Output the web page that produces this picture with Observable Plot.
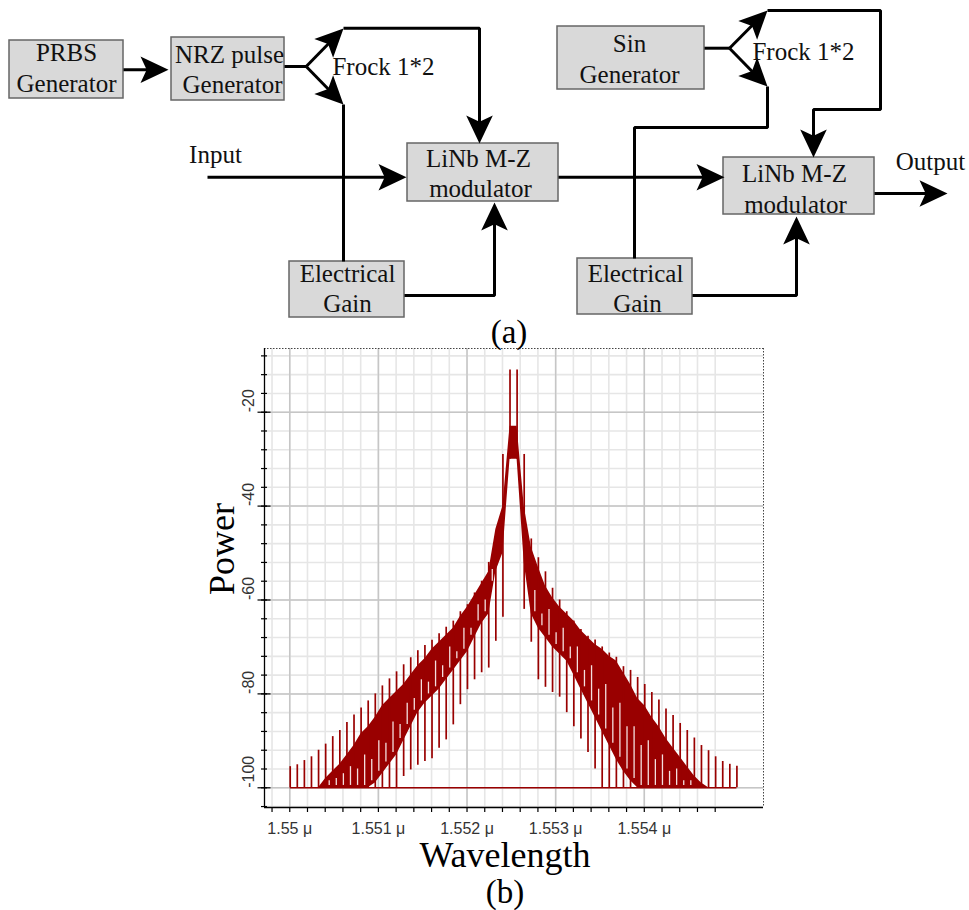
<!DOCTYPE html>
<html><head><meta charset="utf-8">
<script src="https://cdn.jsdelivr.net/npm/d3@7"></script>
<script src="https://cdn.jsdelivr.net/npm/@observablehq/plot@0.6"></script>
<style>
body{margin:0;background:#fff;}
#root{width:969px;}
#root svg{display:block;}
</style></head><body><div id="root"></div>
<script>
// ---------- (b) spectrum data (wavelength in nm, power in dB) ----------
const wavelength = [1550.005,1550.085,1550.165,1550.245,1550.325,1550.405,1550.485,1550.565,1550.645,1550.725,
 1550.805,1550.885,1550.965,1551.045,1551.125,1551.205,1551.285,1551.365,1551.445,1551.525,
 1551.605,1551.685,1551.765,1551.845,1551.925,1552.005,1552.085,1552.165,1552.245,1552.325,
 1552.405,1552.485,1552.565,1552.645,1552.725,1552.805,1552.885,1552.965,1553.045,1553.125,
 1553.205,1553.285,1553.365,1553.445,1553.525,1553.605,1553.685,1553.765,1553.845,1553.925,
 1554.005,1554.085,1554.165,1554.245,1554.325,1554.405,1554.485,1554.565,1554.645,1554.725,
 1554.805,1554.885,1554.965,1555.045];
const spikeTop = [-95.5,-95.1,-94.2,-93.4,-92.0,-90.7,-89.1,-87.8,-86.1,-84.5,-83.0,-81.5,-80.0,-78.3,-76.8,-75.3,
 -73.8,-72.3,-70.8,-69.7,-68.6,-67.2,-65.8,-64.5,-62.5,-61.0,-58.5,-56.0,-52.0,-47.0,-29.0,-11.0,
 -11.0,-29.0,-47.0,-51.0,-54.0,-57.5,-60.0,-62.5,-64.5,-66.3,-67.7,-68.5,-70.0,-71.3,-72.2,-74.2,
 -75.0,-76.5,-78.0,-79.7,-81.3,-83.2,-84.6,-86.3,-87.8,-89.4,-91.0,-92.1,-93.4,-94.4,-95.0,-95.4];
const spikeBottom = [-100,-100,-100,-100,-100,-100,-100,-100,-100,-100,-100,-100,-100,-100,-100,-100,
 -97.6,-96.2,-95.2,-94.4,-93.8,-91.6,-89.8,-86.6,-82.3,-79.1,-77,-75.5,-74.5,-68.8,-63.7,-30,
 -30,-62,-69,-77,-78.6,-79.7,-80.7,-84,-87,-89.6,-92.5,-96,-100,-100,-100,-100,
 -100,-100,-100,-100,-100,-100,-100,-100,-100,-100,-100,-100,-100,-100,-100,-100];
const bandTop = [-100,-100,-100,-100,-100,-98,-96.5,-95,-93,-91,-88.5,-87,-85,-82.5,-81,-79.5,
 -78,-76,-74,-72.5,-70.5,-69,-67.5,-66,-63.5,-61.5,-59,-56.5,-54,-45,-40,-23,
 -23,-40,-48.7,-53,-57,-59.5,-61.5,-63,-64.5,-66.5,-68,-69.5,-70.5,-72,-73,-75.5,
 -78,-81,-82.5,-85,-87,-89.5,-91.5,-93.5,-95.5,-97.5,-99,-100,-100,-100,-100,-100];
const bandBottom = [-100,-100,-100,-100,-100,-100,-100,-100,-100,-100,-100,-100,-99,-97,-95,-93,
 -90,-87,-84,-82,-80.5,-79,-77,-75,-73,-71,-68,-65,-63,-54,-50,-30,
 -30,-52,-63,-66,-68,-70,-71.5,-73,-76,-79,-82,-85,-88,-91,-94,-96.5,
 -98.5,-100,-100,-100,-100,-100,-100,-100,-100,-100,-100,-100,-100,-100,-100,-100];
// top of the white dips seen inside the dense band, between neighbouring lines (null = none)
const dipTop = [null,null,null,null,null,-98.5,-98,-97,-95.5,-96,-93,-94,-90,-90.5,-86,-86.5,
 -82,-81,-77,-77.5,-73,-74,-70,-71,-66,-66,-61,-60,-56,null,null,null,
 null,null,-58,-63,-62,-67,-66,-70,-70,-75,-74,-79,-78,-83,-82,-87,
 -87,-91,-90,-94,-93,-96.5,-96,-98.5,-98.5,null,null,null,null,null,null];
const noiseFloor = -100;
const xDomain = [1549.715, 1555.345];
const yDomain = [-104.2, -6.43];
const yMajorTicks = [-100,-80,-60,-40,-20];
const yMinorTicks = [-104,-100,-96,-92,-88,-84,-80,-76,-72,-68,-64,-60,-56,-52,-48,-44,-40,-36,-32,-28,-24,-20,-16,-12,-8];
const xMajorTicks = [1550,1551,1552,1553,1554];
const xTickLabels = ["1.55 μ","1.551 μ","1.552 μ","1.553 μ","1.554 μ"];
const xMinorTicks = [1549.8,1550,1550.2,1550.4,1550.6,1550.8,1551,1551.2,1551.4,1551.6,1551.8,1552,1552.2,1552.4,1552.6,1552.8,1553,1553.2,1553.4,1553.6,1553.8,1554,1554.2,1554.4,1554.6,1554.8];

// ---------- (a) block diagram ----------
const boxes = [
 {id:"prbs", x1:9,   x2:123, y1:40,  y2:98},
 {id:"nrz",  x1:171, x2:284, y1:37,  y2:100},
 {id:"mz1",  x1:407, x2:558, y1:143, y2:201},
 {id:"eg1",  x1:289, x2:404, y1:261, y2:317},
 {id:"sin",  x1:557, x2:704, y1:26,  y2:89},
 {id:"mz2",  x1:723, x2:874, y1:157, y2:214},
 {id:"eg2",  x1:577, x2:692, y1:258, y2:314}
];
const labels = [
 {x:66,  y:52,  t:"PRBS"}, {x:66, y:83, t:"Generator"},
 {x:229, y:54,  t:"NRZ pulse"}, {x:232, y:84, t:"Generator"},
 {x:478, y:158, t:"LiNb M-Z"}, {x:480, y:188, t:"modulator"},
 {x:347, y:273, t:"Electrical"}, {x:347, y:303, t:"Gain"},
 {x:629, y:43,  t:"Sin"}, {x:629, y:74, t:"Generator"},
 {x:794, y:173, t:"LiNb M-Z"}, {x:795, y:204, t:"modulator"},
 {x:635, y:273, t:"Electrical"}, {x:637, y:303, t:"Gain"},
 {x:383, y:66,  t:"Frock 1*2"}, {x:803, y:51, t:"Frock 1*2"},
 {x:215, y:154, t:"Input"}, {x:930, y:161, t:"Output"}
];
const wires = [
 [[123,69.3],[162,69.3]],
 [[284,66],[305.7,66]],
 [[305.7,66],[336,35]],
 [[305.7,66],[336,97]],
 [[343,27.7],[479,27.7],[479,136]],
 [[343,104],[343,261]],
 [[207,176.7],[400,176.7]],
 [[404,295],[494,295],[494,208]],
 [[558,176.7],[718,176.7]],
 [[874,193],[940,193]],
 [[704,47.7],[729,47.7]],
 [[729,47.7],[760,16.5]],
 [[729,47.7],[760,79.5]],
 [[767,10],[880,10],[880,109],[813,109],[813,150]],
 [[767,86],[767,127],[634,127],[634,258]],
 [[692,295],[796,295],[796,222]]
];
const arrowTips = [
 {x:168, y:69.3, a:90}, {x:343, y:28, a:45}, {x:343, y:104, a:135},
 {x:479, y:143, a:180}, {x:406, y:176.7, a:90}, {x:494, y:202, a:0},
 {x:724, y:176.7, a:90}, {x:947, y:193, a:90},
 {x:767, y:10, a:45}, {x:767, y:86, a:135}, {x:813, y:157, a:180}, {x:796, y:216, a:0}
];

const arrowSymbol = {
  draw(ctx, size) {
    const r = Math.sqrt(size / Math.PI), L = 2 * r, w = 0.95 * r;
    ctx.moveTo(0, 0); ctx.lineTo(w, L); ctx.lineTo(0, 0.78 * L); ctx.lineTo(-w, L); ctx.closePath();
  }
};

const wirePts = wires.flatMap((w, i) => w.map(([x, y]) => ({x, y, id: i})));
const serif = "Liberation Serif, Times New Roman, serif";

const diagram = Plot.plot({
  width: 969, height: 320, margin: 0,
  x: {domain: [0, 969], range: [0, 969], axis: null},
  y: {domain: [0, 320], range: [0, 320], axis: null},
  style: {background: "white", fontFamily: serif, overflow: "visible"},
  marks: [
    Plot.rect(boxes, {x1: "x1", x2: "x2", y1: "y1", y2: "y2", fill: "#d9d9d9", stroke: "#666", strokeWidth: 1.5}),
    Plot.line(wirePts, {x: "x", y: "y", z: "id", stroke: "black", strokeWidth: 3, strokeLinejoin: "miter", strokeLinecap: "butt"}),
    Plot.dot(arrowTips, {x: "x", y: "y", rotate: "a", symbol: arrowSymbol, r: 14, fill: "black", stroke: "none"}),
    Plot.text(labels, {x: "x", y: "y", text: "t", fontSize: 25, fontFamily: serif, fill: "#111", lineAnchor: "middle"})
  ]
});

const spec = wavelength.map((w, i) => ({w, hi: spikeTop[i], lo: spikeBottom[i], bt: bandTop[i], bb: bandBottom[i]}));
const dips = wavelength.slice(0, -1)
  .map((w, i) => ({w: (w + wavelength[i + 1]) / 2, top: dipTop[i], bottom: Math.max(bandBottom[i], bandBottom[i + 1]) + 0.5}))
  .filter(d => d.top != null);
const red = "#990000";
const sans = "Liberation Sans, Arial, sans-serif";

const chart = Plot.plot({
  width: 969, height: 590, marginTop: 28, marginBottom: 103, marginLeft: 264, marginRight: 206,
  x: {domain: xDomain},
  y: {domain: yDomain},
  style: {background: "white", fontFamily: sans, overflow: "visible"},
  marks: [
    Plot.ruleX(xMinorTicks, {stroke: "#e6e6e6", strokeWidth: 1.6}),
    Plot.ruleY(yMinorTicks, {stroke: "#e6e6e6", strokeWidth: 1.6}),
    Plot.ruleX(xMajorTicks, {stroke: "#c6c6c6", strokeWidth: 1.5}),
    Plot.ruleY(yMajorTicks, {stroke: "#c6c6c6", strokeWidth: 1.5}),
    Plot.ruleY([noiseFloor], {x1: wavelength[0], x2: wavelength[wavelength.length - 1], stroke: red, strokeWidth: 1.6}),
    Plot.areaY(spec, {x: "w", y1: "bb", y2: "bt", fill: red}),
    Plot.ruleX(dips, {x: "w", y1: "bottom", y2: "top", stroke: "#f4dede", strokeWidth: 1.3}),
    Plot.ruleX(spec, {x: "w", y1: "lo", y2: "hi", stroke: red, strokeWidth: 1.7}),
    // frame
    Plot.ruleY([yDomain[1]], {stroke: "#444", strokeWidth: 1, strokeDasharray: "1.5 1.5"}),
    Plot.ruleX([xDomain[1]], {stroke: "#444", strokeWidth: 1, strokeDasharray: "1.5 1.5"}),
    Plot.ruleX([xDomain[0]], {stroke: "black", strokeWidth: 1.3}),
    Plot.ruleY([yDomain[0]], {stroke: "black", strokeWidth: 1.3}),
    // axes
    Plot.axisY(yMinorTicks, {tickSize: 6, dx: 3, fill: "none", label: null, stroke: "black", strokeWidth: 1.2}),
    Plot.axisY(yMajorTicks, {tickSize: 13, dx: 6.5, fill: "none", label: null, stroke: "black", strokeWidth: 1.2}),
    Plot.axisX(xMinorTicks, {tickSize: 5, fill: "none", label: null, stroke: "black", strokeWidth: 1.2}),
    Plot.text(yMajorTicks, {y: d => d, text: d => String(d), frameAnchor: "left", dx: -16, rotate: -90, fontSize: 16, fontFamily: sans, fill: "#333", lineAnchor: "middle"}),
    Plot.text(xMajorTicks, {x: d => d, text: (d, i) => xTickLabels[i], frameAnchor: "bottom", dy: 21, fontSize: 16, fontFamily: sans, fill: "#333", lineAnchor: "middle"}),
    Plot.text(["Power"], {frameAnchor: "left", dx: -42, dy: 17, rotate: -90, fontSize: 36, fontFamily: serif, fill: "black", lineAnchor: "middle"}),
    Plot.text(["Wavelength"], {frameAnchor: "bottom", dx: -9, dy: 48, fontSize: 36, fontFamily: serif, fill: "black", lineAnchor: "middle"}),
    Plot.text(["(b)"], {frameAnchor: "bottom", dx: -9, dy: 85, fontSize: 33, fontFamily: serif, fill: "black", lineAnchor: "middle"}),
    Plot.text(["(a)"], {frameAnchor: "top", dx: -5, dy: -16, fontSize: 33, fontFamily: serif, fill: "black", lineAnchor: "middle"})
  ]
});

const root = document.getElementById("root");
root.appendChild(diagram);
root.appendChild(chart);
</script>
</body></html>
